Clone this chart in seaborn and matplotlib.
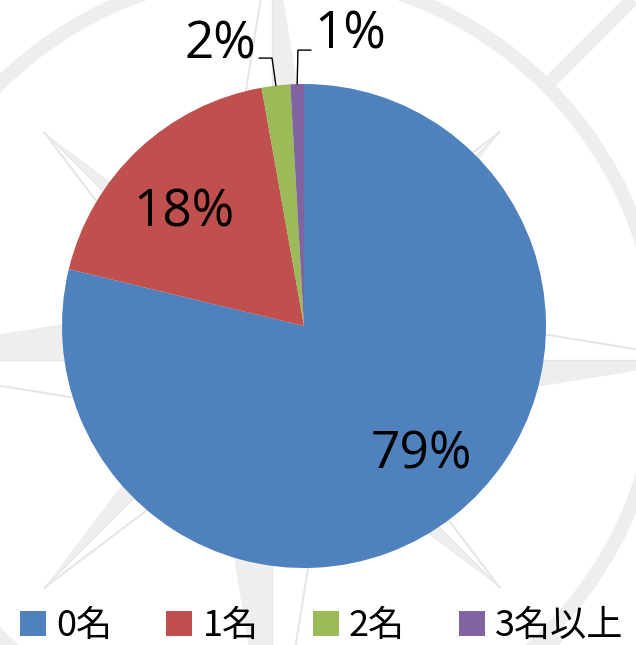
import numpy as np
import matplotlib
matplotlib.use("Agg")
import matplotlib.pyplot as plt
import seaborn as sns
from matplotlib.patches import Polygon, Circle, Patch

# ---- data ----
categories = ["0名", "1名", "2名", "3名以上"]
shares = [78.7, 18.4, 1.9, 0.9]
pct_labels = ["79%", "18%", "2%", "1%"]
colors = ["#4F81BD", "#C0504D", "#9BBB59", "#8064A2"]

sns.set_theme(style="white")
plt.rcParams['font.family'] = ['Noto Sans CJK JP', 'DejaVu Sans']
palette = sns.color_palette(colors)

W, H = 636, 645
fig = plt.figure(figsize=(W / 100, H / 100), dpi=100)
fig.patch.set_facecolor("white")

# ---- decorative compass rose watermark ----
bg = fig.add_axes([0, 0, 1, 1])
bg.set_xlim(0, W)
bg.set_ylim(H, 0)
bg.axis("off")
cx, cy = 272, 360
fill_c = "#EEEEEE"
line_c = "#E6E6E6"
bg.add_patch(Circle((cx, cy), 388, fill=False, ec=fill_c, lw=10))
for ang in [45, 135, 225, 315]:
    t = np.deg2rad(ang)
    d = np.array([np.cos(t), -np.sin(t)])
    p0 = np.array([cx, cy]) + 392 * d
    p1 = np.array([cx, cy]) + 700 * d
    bg.plot([p0[0], p1[0]], [p0[1], p1[1]], color=fill_c, lw=10, solid_capstyle="butt")


def star_point(theta, L, w):
    t = np.deg2rad(theta)
    d = np.array([np.cos(t), -np.sin(t)])
    cw = np.array([np.sin(t), np.cos(t)])
    c = np.array([cx, cy])
    tip = c + L * d
    bg.add_patch(Polygon([c, tip, c + w * cw], closed=True, fc=fill_c, ec="none"))
    b = c - w * cw
    bg.plot([b[0], tip[0]], [b[1], tip[1]], color=line_c, lw=1.5)
    bg.plot([cx, tip[0]], [cy, tip[1]], color=line_c, lw=1.0)


for th in [0, 90, 180, 270]:
    star_point(th, 430, 70)
for th in [45, 135, 225, 315]:
    star_point(th, 322, 45)

# ---- pie ----
pcx, pcy, r = 304, 326, 242
ax = fig.add_axes([(pcx - r) / W, (H - pcy - r) / H, 2 * r / W, 2 * r / H])
ax.set_facecolor("none")
wedges, _ = ax.pie(shares, colors=palette, startangle=90, counterclock=False,
                   radius=1, wedgeprops=dict(linewidth=0))
ax.set_xlim(-1, 1)
ax.set_ylim(-1, 1)
ax.set_aspect("equal")
ax.axis("off")

label_pos = [(0.483, -0.587), (-0.496, 0.413), (-0.347, 1.107), (0.19, 1.145)]
for txt, (lx, ly) in zip(pct_labels, label_pos):
    ax.text(lx, ly, txt, ha="center", va="baseline", fontsize=37,
            family=["Open Sans", "DejaVu Sans"], color="black")

# leader lines for small slices
elbows = {2: ((-0.132, 1.107), (-0.186, 1.107)), 3: ((-0.025, 1.14), (0.029, 1.14))}
for i, (elb, end) in elbows.items():
    wdg = wedges[i]
    mid = np.deg2rad((wdg.theta1 + wdg.theta2) / 2)
    sx, sy = np.cos(mid), np.sin(mid)
    ax.plot([sx, elb[0], end[0]], [sy, elb[1], end[1]], color="black", lw=1.0,
            clip_on=False)

# ---- legend ----
handles = [Patch(fc=c, ec="none") for c in palette]
leg = fig.legend(handles, categories, ncol=4, loc="center left",
                 bbox_to_anchor=(20 / W, (H - 626) / H), frameon=False,
                 fontsize=26, handlelength=0.72, handleheight=0.72,
                 handletextpad=0.28, columnspacing=1.5, borderpad=0,
                 borderaxespad=0)
for t in leg.get_texts():
    t.set_color("black")

fig.savefig("out.png", dpi=100, facecolor="white")
